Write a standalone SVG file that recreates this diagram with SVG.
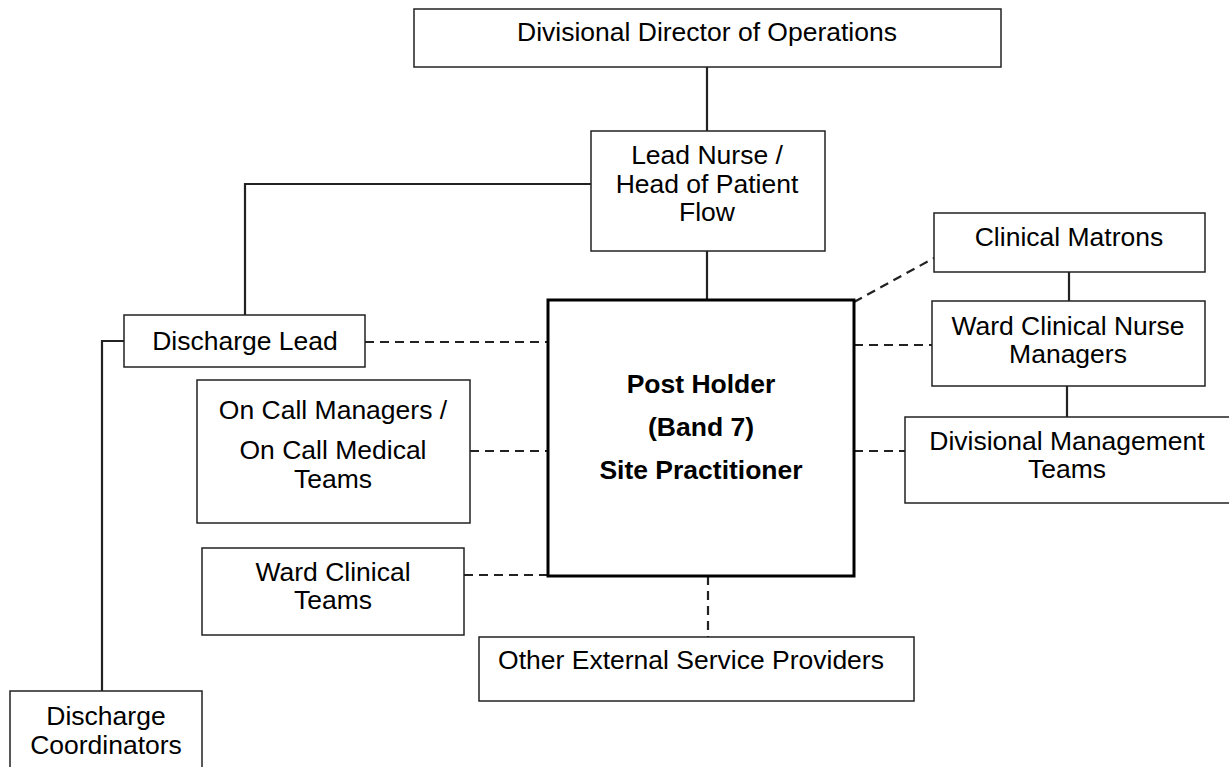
<svg xmlns="http://www.w3.org/2000/svg" width="1229" height="767" viewBox="0 0 1229 767">
<style>
.box{fill:#fff;stroke:#222;stroke-width:1.5}
.main{fill:#fff;stroke:#000;stroke-width:3}
.t{font-family:"Liberation Sans",Arial,sans-serif;font-size:26.5px;fill:#000;text-anchor:middle}
.b{font-weight:bold}
.solid{fill:none;stroke:#222;stroke-width:2.2}
.dash{fill:none;stroke:#222;stroke-width:2.2;stroke-dasharray:9 6}
</style>
<rect width="1229" height="767" fill="#fff"/>
<g id="connectors">
<path class="solid" d="M707 67V131"/>
<path class="solid" d="M707 251V300"/>
<path class="solid" d="M591 184H245V315"/>
<path class="solid" d="M124 341H102V691"/>
<path class="solid" d="M1069 272V301"/>
<path class="solid" d="M1067 386V417"/>
<path class="dash" d="M365 342H548"/>
<path class="dash" d="M470 451H548"/>
<path class="dash" d="M464 575H548"/>
<path class="dash" d="M708 576V637"/>
<path class="dash" d="M854 302L934 258"/>
<path class="dash" d="M854 345H932"/>
<path class="dash" d="M854 451H905"/>
</g>
<g id="director">
<rect class="box" x="414" y="9" width="587" height="58"/>
<text class="t" x="707" y="41">Divisional Director of Operations</text>
</g>
<g id="leadnurse">
<rect class="box" x="591" y="131" width="234" height="120"/>
<text class="t" x="707" y="164">Lead Nurse /</text>
<text class="t" x="707" y="193">Head of Patient</text>
<text class="t" x="707" y="221">Flow</text>
</g>
<g id="postholder">
<rect class="main" x="548" y="300" width="306" height="276"/>
<text class="t b" x="701" y="393">Post Holder</text>
<text class="t b" x="701" y="436">(Band 7)</text>
<text class="t b" x="701" y="479">Site Practitioner</text>
</g>
<g id="dischargelead">
<rect class="box" x="124" y="315" width="241" height="52"/>
<text class="t" x="245" y="350">Discharge Lead</text>
</g>
<g id="dischargecoord">
<rect class="box" x="10" y="691" width="192" height="80"/>
<text class="t" x="106" y="725">Discharge</text>
<text class="t" x="106" y="754">Coordinators</text>
</g>
<g id="oncall">
<rect class="box" x="197" y="380" width="273" height="143"/>
<text class="t" x="333" y="419">On Call Managers /</text>
<text class="t" x="333" y="459">On Call Medical</text>
<text class="t" x="333" y="488">Teams</text>
</g>
<g id="wardteams">
<rect class="box" x="202" y="548" width="262" height="87"/>
<text class="t" x="333" y="581">Ward Clinical</text>
<text class="t" x="333" y="609">Teams</text>
</g>
<g id="external">
<rect class="box" x="479" y="637" width="435" height="64"/>
<text class="t" x="691" y="669">Other External Service Providers</text>
</g>
<g id="matrons">
<rect class="box" x="934" y="213" width="271" height="59"/>
<text class="t" x="1069" y="246">Clinical Matrons</text>
</g>
<g id="wardnurse">
<rect class="box" x="932" y="301" width="273" height="85"/>
<text class="t" x="1068" y="335">Ward Clinical Nurse</text>
<text class="t" x="1068" y="363">Managers</text>
</g>
<g id="divmgmt">
<rect class="box" x="905" y="417" width="330" height="86"/>
<text class="t" x="1067" y="450">Divisional Management</text>
<text class="t" x="1067" y="478">Teams</text>
</g>
</svg>
